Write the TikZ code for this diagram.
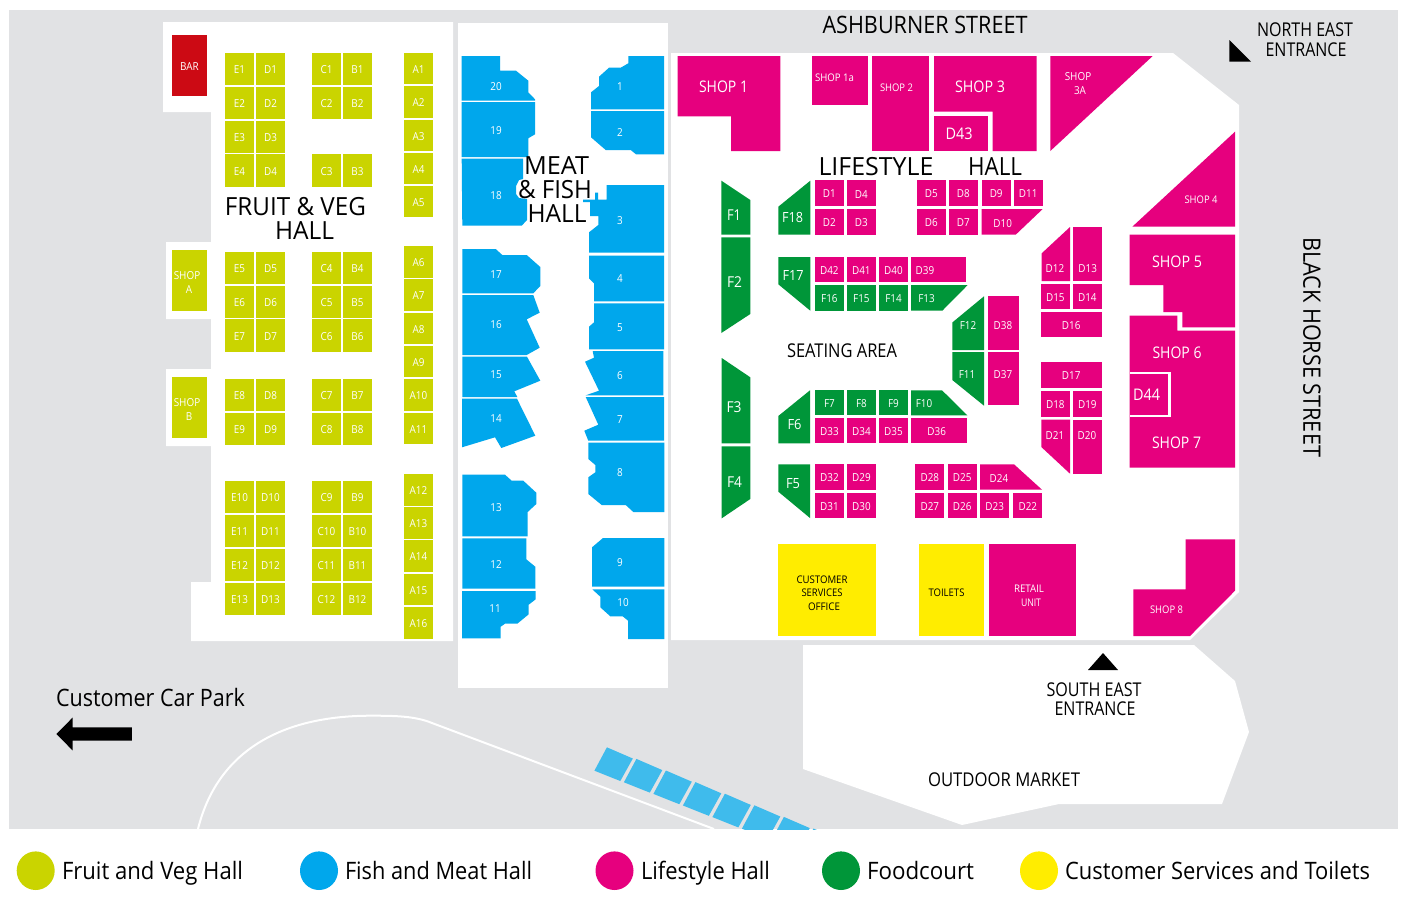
\documentclass[tikz,border=0pt]{standalone}
\usepackage{graphicx}
\usepackage{fontspec}
\setmainfont{Open Sans}[FakeStretch=0.9]
\definecolor{groundc}{HTML}{E1E2E4}
\definecolor{fruitc}{HTML}{CAD400}
\definecolor{fishc}{HTML}{00A7EC}
\definecolor{pinkc}{HTML}{E6007E}
\definecolor{greenc}{HTML}{009639}
\definecolor{yellowc}{HTML}{FFED00}
\definecolor{barc}{HTML}{CC0A14}
\definecolor{stallc}{HTML}{3FBBEC}
\tikzset{
  lbl/.style={inner sep=0pt,outer sep=0pt,text=white,font=\fontsize{11}{11}\selectfont,align=center},
  lblb/.style={inner sep=0pt,outer sep=0pt,text=black,align=center},
}
% filled cell with centred label
\newcommand\cellbox[6]{\fill[#5] (#1,#2) rectangle (#3,#4);\node[lbl] at ({(#1+#3)/2},{(#2+#4)/2+0.9}) {#6};}
% small white label
\newcommand\lab[3]{\node[lbl] at (#1,#2) {#3};}
% white label, given size and width
\newcommand\wfit[5]{\node[lbl] at (#1,#2) {\fontsize{#3}{#3}\selectfont\resizebox{#4pt}{\height}{#5}};}
% black label, given size and width
\newcommand\bfit[5]{\node[lblb] at (#1,#2) {\fontsize{#3}{#3}\selectfont\resizebox{#4pt}{\height}{#5}};}
% fruit row: y1 y2 E D C B
\newcommand\frow[6]{\cellbox{225}{#1}{254}{#2}{fruitc}{#3}\cellbox{256}{#1}{285}{#2}{fruitc}{#4}\cellbox{312}{#1}{341}{#2}{fruitc}{#5}\cellbox{343}{#1}{372}{#2}{fruitc}{#6}}
\newcommand\arow[3]{\cellbox{404}{#1}{433}{#2}{fruitc}{#3}}
\newcommand\legendtxt[3]{\node[lblb,anchor=base west] at (#1,879) {\fontsize{24}{24}\selectfont\resizebox{#2pt}{\height}{#3}};}
\begin{document}
\begin{tikzpicture}[x=1pt,y=-1pt]
\useasboundingbox (0,0) rectangle (1407,897);
\fill[white] (0,0) rectangle (1407,897);
\fill[groundc] (9,10) rectangle (1398,829);
% halls
\fill[white] (163,22) -- (453,22) -- (453,641) -- (191,641) -- (191,582) -- (211,582) -- (211,446) -- (166,446) -- (166,369) -- (211,369) -- (211,319) -- (166,319) -- (166,242) -- (211,242) -- (211,112) -- (163,112) -- cycle;
\fill[white] (458,23) rectangle (668,688);
\fill[white] (671,53) -- (1173,53) -- (1239,105) -- (1239,592) -- (1190,640) -- (671,640) -- cycle;
\fill[white] (803,645) -- (1194,645) -- (1235,681) -- (1249,732) -- (1222,804) -- (1059,804) -- (962,825) -- (803,769) -- cycle;
% road
\draw[white,line width=2pt] (198,829) .. controls (215,760) and (270,715.7) .. (371,715.7) .. controls (395,715.7) and (415,716) .. (432,723) -- (714,829);
% outdoor stalls
\begin{scope}
\clip (9,10) rectangle (1398,829);
\foreach \i in {0,...,7}{
  \fill[stallc,shift={({\i*29.5},{\i*11.6})}] (606.9,747.3) -- (632.8,758.5) -- (620.3,781) -- (594.4,770.7) -- cycle;
}
\end{scope}
% fruit hall
\cellbox{172}{35}{207}{96}{barc}{BAR}
\cellbox{172}{250}{207}{311}{fruitc}{}
\node[lbl] at (187,276) {SHOP}; \node[lbl] at (189,290) {A};
\cellbox{172}{377}{207}{438}{fruitc}{}
\node[lbl] at (187,403) {SHOP}; \node[lbl] at (189,417) {B};
\frow{53}{85}{E1}{D1}{C1}{B1}
\frow{87}{119}{E2}{D2}{C2}{B2}
\cellbox{225}{121}{254}{153}{fruitc}{E3}\cellbox{256}{121}{285}{153}{fruitc}{D3}
\frow{154}{187}{E4}{D4}{C3}{B3}
\frow{252}{284}{E5}{D5}{C4}{B4}
\frow{286}{318}{E6}{D6}{C5}{B5}
\frow{319}{352}{E7}{D7}{C6}{B6}
\frow{379}{411}{E8}{D8}{C7}{B7}
\frow{413}{445}{E9}{D9}{C8}{B8}
\frow{481}{513}{E10}{D10}{C9}{B9}
\frow{515}{547}{E11}{D11}{C10}{B10}
\frow{549}{581}{E12}{D12}{C11}{B11}
\frow{583}{615}{E13}{D13}{C12}{B12}
\arow{53}{84}{A1}\arow{86}{118}{A2}\arow{120}{151}{A3}\arow{153}{184}{A4}\arow{186}{217}{A5}
\arow{246}{278}{A6}\arow{279}{311}{A7}\arow{313}{344}{A8}\arow{346}{377}{A9}\arow{379}{411}{A10}\arow{413}{444}{A11}
\arow{474}{506}{A12}\arow{507}{539}{A13}\arow{540}{572}{A14}\arow{574}{605}{A15}\arow{607}{639}{A16}
% fish hall: left column
\fill[fishc] (461.7,56) -- (500,56) -- (500,70.7) -- (516,70.7) -- (528.3,80.7) -- (528.3,92.3) -- (535,99.3) -- (535,100.7) -- (461.7,100.7) -- cycle;
\fill[fishc] (461.7,102) -- (535,102) -- (535,134.3) -- (528.3,138.3) -- (528.3,157) -- (461.7,157) -- cycle;
\fill[fishc] (461.7,158.7) -- (523,158.7) -- (523,179) -- (519,180) -- (516,186) -- (516,194) -- (519,198) -- (527,199) -- (527,220) -- (521.7,225.7) -- (462.3,225.7) -- cycle;
\fill[fishc] (462.3,249) -- (495.7,249) -- (502.3,255) -- (526.7,255) -- (540.3,267) -- (540.3,286) -- (533.3,293.3) -- (462.3,293.3) -- cycle;
\fill[fishc] (462.3,295) -- (533.3,295) -- (539.7,312.7) -- (526.7,319.3) -- (539.7,347.7) -- (526.7,355) -- (462.3,355) -- cycle;
\fill[fishc] (462.3,356.7) -- (527,356.7) -- (540.3,380.7) -- (514.3,391.3) -- (517.3,397) -- (462.3,397) -- cycle;
\fill[fishc] (462,398.7) -- (517,398.7) -- (535.3,435.7) -- (501.3,448) -- (495,437.3) -- (462,447.3) -- cycle;
\fill[fishc] (462.3,474.7) -- (505,474.7) -- (511.7,480.7) -- (523.3,480.7) -- (536.3,492.7) -- (536.3,504) -- (527.7,512) -- (527.7,536.3) -- (462.3,536.3) -- cycle;
\fill[fishc] (462.3,538.3) -- (526.3,538.3) -- (526.3,559.3) -- (535.3,566.7) -- (535.3,588.7) -- (462.3,588.7) -- cycle;
\fill[fishc] (462,591) -- (535.7,591) -- (535.7,599.3) -- (528.7,604.7) -- (528.7,614.3) -- (517.3,623.7) -- (505,623.7) -- (500.7,626.7) -- (500.7,638.3) -- (462,638.3) -- cycle;
% fish hall: right column
\fill[fishc] (628.3,56) -- (664,56) -- (664,109.3) -- (591,109.3) -- (591,92.3) -- (599,86) -- (599,76.7) -- (609,67.7) -- (620.7,67.7) -- (628.3,63.3) -- cycle;
\fill[fishc] (591,111) -- (664,111) -- (664,154.3) -- (636,154.3) -- (630.7,150) -- (605.7,150) -- (591,137.3) -- cycle;
\fill[fishc] (606.7,185) -- (664,185) -- (664,252.7) -- (589,252.7) -- (589,232.3) -- (598.3,225) -- (598.3,216) -- (590,216) -- (590,202) -- (583,202) -- (583,199.5) -- (595,199.5) -- (595,192.7) -- (598,192.7) -- (598,199.5) -- (606.7,199.5) -- cycle;
\fill[fishc] (589,255.7) -- (664,255.7) -- (664,301.3) -- (594,301.3) -- (594,283.3) -- (589,278.3) -- cycle;
\fill[fishc] (594,303.3) -- (664,303.3) -- (664,349.3) -- (589,349.3) -- (589,326.7) -- (594,322.3) -- cycle;
\fill[fishc] (592.7,351) -- (663.3,351) -- (663.3,395.3) -- (585.7,395.3) -- (599,390.7) -- (585,361.7) -- (594,357.7) -- cycle;
\fill[fishc] (585.7,397) -- (664,397) -- (664,440.7) -- (588.3,440.7) -- (584.3,430.7) -- (598.3,424.7) -- cycle;
\fill[fishc] (588.3,442.7) -- (664.3,442.7) -- (664.3,512) -- (633.3,512) -- (625.7,505) -- (601.7,505) -- (588.3,494) -- (588.3,477.3) -- (595.3,472.3) -- (595.3,465) -- (588.3,459) -- cycle;
\fill[fishc] (603,538) -- (664.3,538) -- (664.3,586.7) -- (592,586.7) -- (592,547.3) -- cycle;
\fill[fishc] (592.3,589.3) -- (664.3,589.3) -- (664.3,639) -- (628,639) -- (628,620.7) -- (622.7,616.3) -- (610.3,616.3) -- (600.3,607.3) -- (600.3,596.7) -- cycle;
\foreach \n/\px/\py in {20/496/87,19/496/131,18/496/196,17/496/275,16/496/325,15/496/375,14/496/419,13/496/508,12/496/565,11/495/609,1/620/87,2/620/133,3/620/221,4/620/279,5/620/328,6/620/376,7/620/420,8/620/473,9/620/563,10/623/603}{
  \node[lbl] at (\px,\py) {\n};
}
% lifestyle: shops
\fill[pinkc] (677.7,56) -- (780.3,56) -- (780.3,151) -- (731,151) -- (731,116.3) -- (677.7,116.3) -- cycle;
\wfit{723.5}{87}{16}{49}{SHOP 1}
\fill[pinkc] (811.7,56) rectangle (868.3,105);
\wfit{834.5}{77.5}{10.5}{39}{SHOP 1a}
\fill[pinkc] (872,56) rectangle (928.7,151);
\wfit{896.5}{88}{10.5}{33}{SHOP 2}
\fill[pinkc] (934,56) -- (1036.7,56) -- (1036.7,151) -- (992.7,151) -- (992.7,111.7) -- (934,111.7) -- cycle;
\wfit{980}{87}{16}{50}{SHOP 3}
\fill[pinkc] (934,116.3) rectangle (987.7,151);
\wfit{959}{134}{16}{27}{D43}
\fill[pinkc] (1050.3,56) -- (1152.7,56) -- (1050.3,151) -- cycle;
\lab{1078}{76.5}{SHOP}\lab{1080}{90.5}{3A}
\fill[pinkc] (1235,131.7) -- (1235,226.7) -- (1132.3,226.7) -- cycle;
\wfit{1201}{200}{10.5}{33}{SHOP 4}
\fill[pinkc] (1129.7,234.7) -- (1235,234.7) -- (1235,327.3) -- (1182.3,327.3) -- (1182.3,312) -- (1163.3,312) -- (1163.3,285) -- (1129.7,285) -- cycle;
\wfit{1177}{261.5}{16}{50}{SHOP 5}
\fill[pinkc] (1129.7,315.7) -- (1177.3,315.7) -- (1177.3,330.7) -- (1235,330.7) -- (1235,467.7) -- (1129.7,467.7) -- cycle;
\fill[white] (1129.7,371.7) rectangle (1170.7,417.3);
\fill[pinkc] (1129.7,373.7) rectangle (1167.7,415);
\wfit{1177}{353}{16}{49}{SHOP 6}
\wfit{1146.5}{394.5}{16}{27}{D44}
\wfit{1176.5}{443}{16}{49}{SHOP 7}
\fill[pinkc] (1185.7,539.3) -- (1235,539.3) -- (1235,590.7) -- (1190,636) -- (1133.3,636) -- (1133.3,589.3) -- (1185.7,589.3) -- cycle;
\wfit{1166.5}{609.5}{10.5}{33}{SHOP 8}
% lifestyle: stalls top
\cellbox{814.7}{180.3}{844}{206}{pinkc}{D1}\cellbox{846.7}{180.3}{876}{206}{pinkc}{D4}
\cellbox{814.7}{209}{844}{234.7}{pinkc}{D2}\cellbox{846.7}{209}{876}{234.7}{pinkc}{D3}
\cellbox{916.7}{180.3}{946}{206}{pinkc}{D5}\cellbox{948.7}{180.3}{978}{206}{pinkc}{D8}
\cellbox{981.7}{180.3}{1010.7}{206}{pinkc}{D9}\cellbox{1013.7}{180.3}{1042.7}{206}{pinkc}{D11}
\cellbox{916.7}{209}{946}{234.7}{pinkc}{D6}\cellbox{948.7}{209}{978}{234.7}{pinkc}{D7}
\fill[pinkc] (981.7,209) -- (1042.7,209) -- (1015.7,234.7) -- (981.7,234.7) -- cycle;
\lab{1002.7}{223.5}{D10}
\cellbox{814.7}{257}{844}{282.3}{pinkc}{D42}\cellbox{846.7}{257}{876}{282.3}{pinkc}{D41}
\cellbox{879}{257}{908}{282.3}{pinkc}{D40}
\fill[pinkc] (911,257) rectangle (965.7,282.3);\lab{925}{271}{D39}
\cellbox{814.7}{285}{844}{310.7}{greenc}{F16}\cellbox{846.7}{285}{876}{310.7}{greenc}{F15}
\cellbox{879}{285}{908}{310.7}{greenc}{F14}
\fill[greenc] (911,285) -- (967.7,285) -- (942.3,310.7) -- (911,310.7) -- cycle;\lab{926.5}{298.5}{F13}
% foodcourt shapes
\fill[greenc] (721.3,180.7) -- (750.3,200) -- (750.3,234.7) -- (721.3,234.7) -- cycle;
\wfit{734}{215}{15}{14}{F1}
\fill[greenc] (721.3,237.3) -- (750.3,237.3) -- (750.3,314) -- (721.3,333) -- cycle;
\wfit{734.5}{282}{15}{15}{F2}
\fill[greenc] (721.7,358) -- (750.3,377.3) -- (750.3,443.3) -- (721.7,443.3) -- cycle;
\wfit{734}{407}{15}{15}{F3}
\fill[greenc] (721.7,446.3) -- (750.3,446.3) -- (750.3,499) -- (721.7,518.3) -- cycle;
\wfit{734.5}{482}{15}{15}{F4}
\fill[greenc] (810.3,180.7) -- (810.3,234.7) -- (778.3,234.7) -- (778.3,206.7) -- cycle;
\wfit{792.5}{217.5}{14}{21}{F18}
\fill[greenc] (778.3,257) -- (810.3,257) -- (810.3,310.7) -- (778.3,284.3) -- cycle;
\wfit{793}{275}{14}{21}{F17}
\fill[greenc] (810,390.3) -- (810,443.3) -- (778.3,443.3) -- (778.3,416) -- cycle;
\wfit{794.5}{424}{14}{14}{F6}
\fill[greenc] (778.3,464.3) -- (810,464.3) -- (810,518) -- (778.3,491.7) -- cycle;
\wfit{793}{484}{14}{14}{F5}
\fill[greenc] (984,296.3) -- (984,350) -- (952.3,350) -- (952.3,322.5) -- cycle;
\lab{968}{325.5}{F12}
\fill[greenc] (952.3,352) -- (984,352) -- (984,405.7) -- (952.3,380) -- cycle;
\lab{967}{375}{F11}
\fill[pinkc] (987.7,296.3) rectangle (1019.3,350);\lab{1003}{325.5}{D38}
\fill[pinkc] (987.7,352) rectangle (1019.3,405);\lab{1003}{375}{D37}
% east stalls
\fill[pinkc] (1070,227) -- (1070,281) -- (1041.7,281) -- (1041.7,253.3) -- cycle;\lab{1055}{268.5}{D12}
\fill[pinkc] (1073,227) rectangle (1101.7,281);\lab{1087.7}{268.5}{D13}
\cellbox{1040.7}{283.7}{1070}{309.3}{pinkc}{D15}\cellbox{1073}{283.7}{1101.7}{309.3}{pinkc}{D14}
\cellbox{1040.7}{312}{1101.7}{337.3}{pinkc}{D16}
\cellbox{1040.7}{362.3}{1101.7}{387.7}{pinkc}{D17}
\cellbox{1040.7}{391.3}{1070}{417}{pinkc}{D18}\cellbox{1073}{391.3}{1101.7}{417}{pinkc}{D19}
\fill[pinkc] (1041.3,419.7) -- (1070,419.7) -- (1070,473.7) -- (1041.3,447) -- cycle;\lab{1055}{436}{D21}
\fill[pinkc] (1073,419.7) rectangle (1101.7,473.7);\lab{1087}{436}{D20}
% lower stalls
\cellbox{815}{389.7}{844}{415.3}{greenc}{F7}\cellbox{847}{389.7}{876}{415.3}{greenc}{F8}\cellbox{879}{389.7}{908}{415.3}{greenc}{F9}
\fill[greenc] (911,390.3) -- (942,390.3) -- (967.3,415.3) -- (911,415.3) -- cycle;\lab{924}{403.5}{F10}
\cellbox{815}{418}{844}{443.3}{pinkc}{D33}\cellbox{847}{418}{876}{443.3}{pinkc}{D34}\cellbox{879}{418}{908}{443.3}{pinkc}{D35}
\fill[pinkc] (911,418) rectangle (967.3,443.3);\lab{936.7}{431.5}{D36}
\cellbox{815}{464.3}{844}{489.7}{pinkc}{D32}\cellbox{847}{464.3}{876}{489.7}{pinkc}{D29}
\cellbox{815}{492.7}{844}{518.3}{pinkc}{D31}\cellbox{847}{492.7}{876}{518.3}{pinkc}{D30}
\cellbox{915.3}{464.3}{944.3}{489.7}{pinkc}{D28}\cellbox{947.7}{464.3}{976.7}{489.7}{pinkc}{D25}
\fill[pinkc] (980,464.3) -- (1014,464.3) -- (1042,489.7) -- (980,489.7) -- cycle;\lab{999}{478.5}{D24}
\cellbox{915.3}{492.7}{944.3}{518.3}{pinkc}{D27}\cellbox{947.7}{492.7}{976.7}{518.3}{pinkc}{D26}
\cellbox{980}{492.7}{1009.3}{518.3}{pinkc}{D23}\cellbox{1013.3}{492.7}{1042.3}{518.3}{pinkc}{D22}
% services
\fill[yellowc] (778.3,544) rectangle (875.7,636);
\bfit{822}{579.5}{10.5}{51}{CUSTOMER}
\bfit{822}{593}{10.5}{41}{SERVICES}
\bfit{824}{606.5}{10.5}{32}{OFFICE}
\fill[yellowc] (918.7,544) rectangle (983.7,636);
\bfit{946.5}{592.5}{10.5}{36}{TOILETS}
\fill[pinkc] (989.3,544) rectangle (1075.7,636);
\wfit{1029}{589}{10.5}{30}{RETAIL}
\wfit{1031}{602.5}{10.5}{20}{UNIT}
% entrance markers and car park arrow
\fill[black] (1088,670) -- (1118,670) -- (1103,653) -- cycle;
\fill[black] (1229.3,40) -- (1251,61.7) -- (1229.3,61.7) -- cycle;
\fill[black] (56.4,734) -- (72.5,717.7) -- (72.5,727.3) -- (131.8,727.3) -- (131.8,740.7) -- (72.5,740.7) -- (72.5,750.3) -- cycle;
% headings
\bfit{925}{25}{24}{205}{ASHBURNER STREET}
\bfit{1305}{30}{19}{96}{NORTH EAST}
\bfit{1306}{50}{19}{81}{ENTRANCE}
\node[lblb,rotate=-90] at (1312,347) {\fontsize{24}{24}\selectfont\resizebox{220pt}{\height}{BLACK HORSE STREET}};
\bfit{295.5}{207}{25}{141}{FRUIT \& VEG}
\bfit{304.5}{231}{25}{59}{HALL}
\bfit{556.5}{166}{25}{65}{MEAT}
\bfit{555}{190}{25}{74}{\& FISH}
\bfit{557}{214}{25}{59}{HALL}
\bfit{876}{167}{25}{115}{LIFESTYLE}
\bfit{995}{167}{25}{54}{HALL}
\bfit{842}{351}{19}{110}{SEATING AREA}
\bfit{1094}{690}{19}{95}{SOUTH EAST}
\bfit{1095}{709}{19}{81}{ENTRANCE}
\bfit{1004}{780}{19}{152}{OUTDOOR MARKET}
\node[lblb,anchor=base west] at (56,706) {\fontsize{24}{24}\selectfont\resizebox{189pt}{\height}{Customer Car Park}};
% legend
\fill[fruitc] (35.7,870.7) ellipse [x radius=19,y radius=19.3];
\fill[fishc] (319,870.7) ellipse [x radius=19,y radius=19.3];
\fill[pinkc] (614.5,870.7) ellipse [x radius=19,y radius=19.3];
\fill[greenc] (841,870.7) ellipse [x radius=19,y radius=19.3];
\fill[yellowc] (1039,870.7) ellipse [x radius=19,y radius=19.3];
\legendtxt{62}{181}{Fruit and Veg Hall}
\legendtxt{345}{187}{Fish and Meat Hall}
\legendtxt{641}{129}{Lifestyle Hall}
\legendtxt{867}{107}{Foodcourt}
\legendtxt{1065}{305}{Customer Services and Toilets}
\end{tikzpicture}
\end{document}
